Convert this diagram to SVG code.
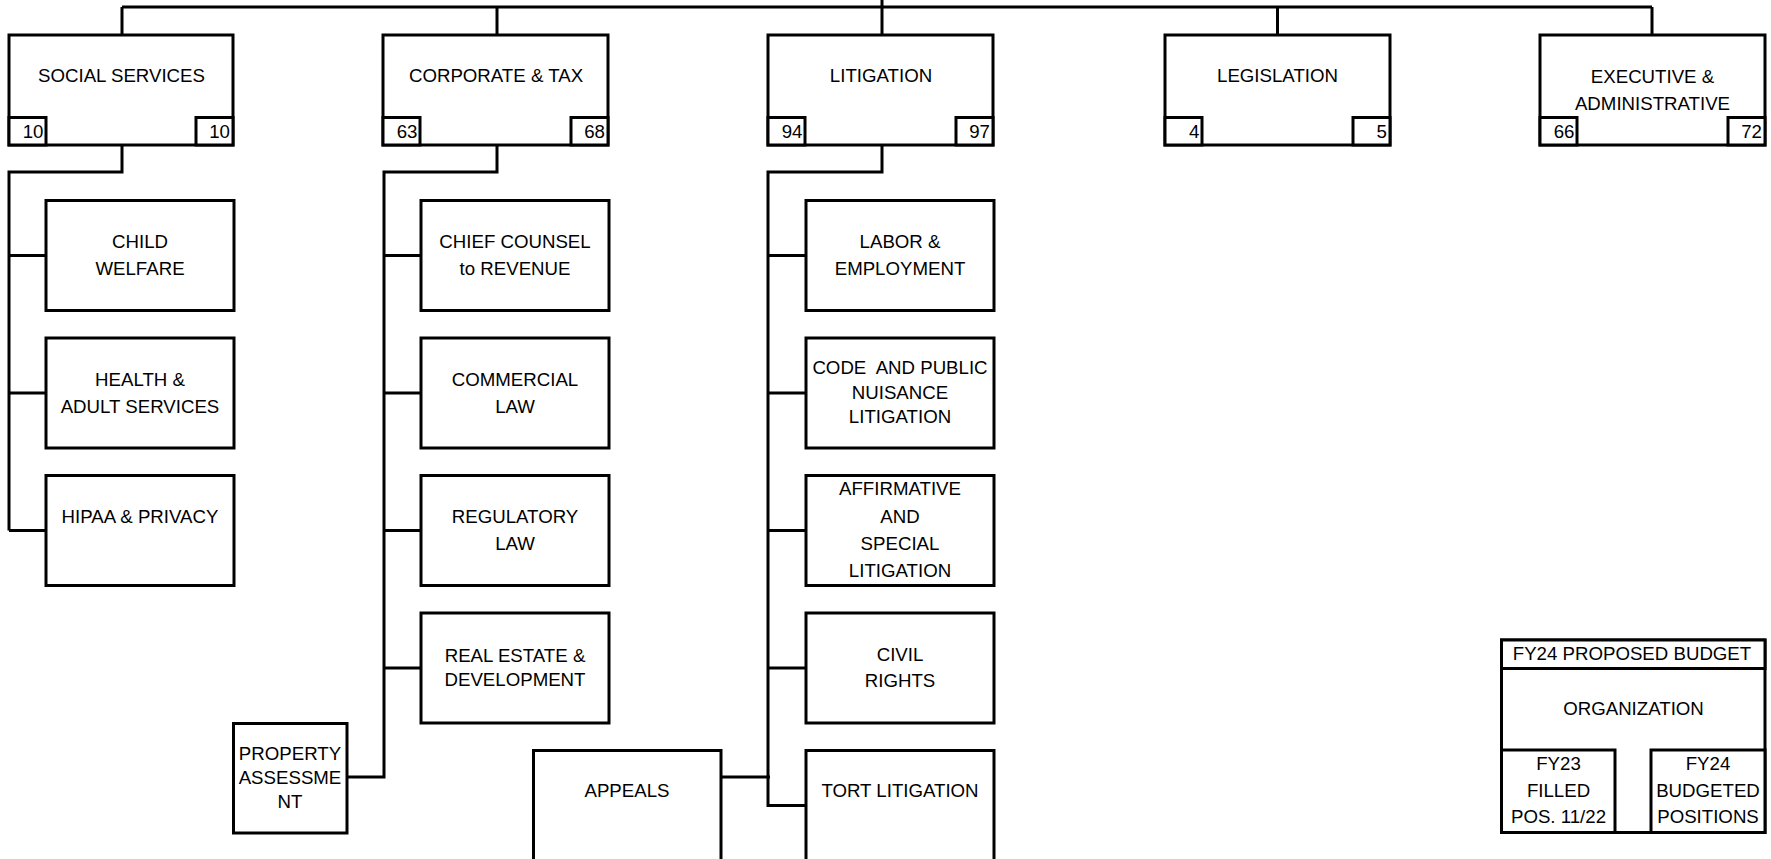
<svg xmlns="http://www.w3.org/2000/svg" width="1771" height="859" viewBox="0 0 1771 859">
  <style>
    .box { fill: #ffffff; stroke: #000000; stroke-width: 3; }
    .cnt { fill: #ffffff; stroke: #000000; stroke-width: 3; }
    .wire { fill: none; stroke: #000000; stroke-width: 3; }
    text { font-family: "Liberation Sans", Arial, sans-serif; font-size: 18.67px; fill: #000000; }
    .c { text-anchor: middle; }
    .r { text-anchor: end; }
  </style>
  <rect width="1771" height="859" fill="#ffffff"/>

  <!-- connectors -->
  <g id="connectors" class="wire">
    <path d="M882 0 V7 M122 7 H1652 M122 7 V35 M497 7 V35 M882 7 V35 M1277.5 7 V35 M1652 7 V35"/>
    <!-- social services branch -->
    <path d="M122 145 V172 H9 V530.5 M9 255.5 H46 M9 393 H46 M9 530.5 H46"/>
    <!-- corporate & tax branch -->
    <path d="M497 145 V172 H384 V777 H347 M384 255.5 H421 M384 393 H421 M384 530.5 H421 M384 668 H421"/>
    <!-- litigation branch -->
    <path d="M882 145 V172 H768 V805.5 H806 M768 255.5 H806 M768 393 H806 M768 530.5 H806 M768 668 H806 M721 777 H770"/>
  </g>

  <!-- top-level divisions -->
  <g id="social-services">
    <rect class="box" x="9" y="35" width="224" height="110"/>
    <rect class="cnt" x="9" y="117.5" width="37" height="27.5"/>
    <rect class="cnt" x="196" y="117.5" width="37" height="27.5"/>
    <text class="c" x="121.5" y="82">SOCIAL SERVICES</text>
    <text class="r" x="43.5" y="137.5">10</text>
    <text class="r" x="230" y="137.5">10</text>
  </g>
  <g id="corporate-tax">
    <rect class="box" x="383" y="35" width="225" height="110"/>
    <rect class="cnt" x="383" y="117.5" width="37" height="27.5"/>
    <rect class="cnt" x="571" y="117.5" width="37" height="27.5"/>
    <text class="c" x="496" y="82">CORPORATE &amp; TAX</text>
    <text class="r" x="417.5" y="137.5">63</text>
    <text class="r" x="605" y="137.5">68</text>
  </g>
  <g id="litigation">
    <rect class="box" x="768" y="35" width="225" height="110"/>
    <rect class="cnt" x="768" y="117.5" width="37" height="27.5"/>
    <rect class="cnt" x="956" y="117.5" width="37" height="27.5"/>
    <text class="c" x="881" y="82">LITIGATION</text>
    <text class="r" x="802.5" y="137.5">94</text>
    <text class="r" x="990" y="137.5">97</text>
  </g>
  <g id="legislation">
    <rect class="box" x="1165" y="35" width="225" height="110"/>
    <rect class="cnt" x="1165" y="117.5" width="37" height="27.5"/>
    <rect class="cnt" x="1353" y="117.5" width="37" height="27.5"/>
    <text class="c" x="1277.5" y="82">LEGISLATION</text>
    <text class="r" x="1199.5" y="137.5">4</text>
    <text class="r" x="1387" y="137.5">5</text>
  </g>
  <g id="executive-administrative">
    <rect class="box" x="1540" y="35" width="225" height="110"/>
    <rect class="cnt" x="1540" y="117.5" width="37" height="27.5"/>
    <rect class="cnt" x="1728" y="117.5" width="37" height="27.5"/>
    <text class="c" x="1652.5" y="82.5">EXECUTIVE &amp;</text>
    <text class="c" x="1652.5" y="109.5">ADMINISTRATIVE</text>
    <text class="r" x="1574.5" y="137.5">66</text>
    <text class="r" x="1762" y="137.5">72</text>
  </g>

  <!-- social services sections -->
  <g id="child-welfare">
    <rect class="box" x="46" y="200.5" width="188" height="110"/>
    <text class="c" x="140" y="248">CHILD</text>
    <text class="c" x="140" y="275">WELFARE</text>
  </g>
  <g id="health-adult-services">
    <rect class="box" x="46" y="338" width="188" height="110"/>
    <text class="c" x="140" y="385.5">HEALTH &amp;</text>
    <text class="c" x="140" y="412.5">ADULT SERVICES</text>
  </g>
  <g id="hipaa-privacy">
    <rect class="box" x="46" y="475.5" width="188" height="110"/>
    <text class="c" x="140" y="523">HIPAA &amp; PRIVACY</text>
  </g>

  <!-- corporate & tax sections -->
  <g id="chief-counsel-revenue">
    <rect class="box" x="421" y="200.5" width="188" height="110"/>
    <text class="c" x="515" y="248">CHIEF COUNSEL</text>
    <text class="c" x="515" y="275">to REVENUE</text>
  </g>
  <g id="commercial-law">
    <rect class="box" x="421" y="338" width="188" height="110"/>
    <text class="c" x="515" y="385.5">COMMERCIAL</text>
    <text class="c" x="515" y="412.5">LAW</text>
  </g>
  <g id="regulatory-law">
    <rect class="box" x="421" y="475.5" width="188" height="110"/>
    <text class="c" x="515" y="523">REGULATORY</text>
    <text class="c" x="515" y="550">LAW</text>
  </g>
  <g id="real-estate-development">
    <rect class="box" x="421" y="613" width="188" height="110"/>
    <text class="c" x="515" y="661.5">REAL ESTATE &amp;</text>
    <text class="c" x="515" y="685.5">DEVELOPMENT</text>
  </g>
  <g id="property-assessment">
    <rect class="box" x="233.5" y="723.5" width="113.5" height="109.5"/>
    <text class="c" x="290" y="760">PROPERTY</text>
    <text class="c" x="290" y="783.5">ASSESSME</text>
    <text class="c" x="290" y="807.5">NT</text>
  </g>

  <!-- litigation sections -->
  <g id="labor-employment">
    <rect class="box" x="806" y="200.5" width="188" height="110"/>
    <text class="c" x="900" y="248">LABOR &amp;</text>
    <text class="c" x="900" y="275">EMPLOYMENT</text>
  </g>
  <g id="code-public-nuisance">
    <rect class="box" x="806" y="338" width="188" height="110"/>
    <text class="c" x="900" y="374.3" xml:space="preserve" style="white-space:pre">CODE  AND PUBLIC</text>
    <text class="c" x="900" y="399">NUISANCE</text>
    <text class="c" x="900" y="423.3">LITIGATION</text>
  </g>
  <g id="affirmative-special">
    <rect class="box" x="806" y="475.5" width="188" height="110"/>
    <text class="c" x="900" y="495">AFFIRMATIVE</text>
    <text class="c" x="900" y="523">AND</text>
    <text class="c" x="900" y="550">SPECIAL</text>
    <text class="c" x="900" y="577.3">LITIGATION</text>
  </g>
  <g id="civil-rights">
    <rect class="box" x="806" y="613" width="188" height="110"/>
    <text class="c" x="900" y="660.7">CIVIL</text>
    <text class="c" x="900" y="687.3">RIGHTS</text>
  </g>
  <g id="tort-litigation">
    <rect class="box" x="806" y="750.5" width="188" height="110"/>
    <text class="c" x="900" y="797.3">TORT LITIGATION</text>
  </g>
  <g id="appeals">
    <rect class="box" x="533.5" y="750.5" width="187.5" height="110"/>
    <text class="c" x="627" y="797.3">APPEALS</text>
  </g>

  <!-- key -->
  <g id="legend">
    <rect class="box" x="1501.5" y="640" width="263.5" height="192.5"/>
    <rect class="box" x="1501.5" y="640" width="263.5" height="28.5"/>
    <rect class="cnt" x="1501.5" y="750" width="113.5" height="82.5"/>
    <rect class="cnt" x="1651" y="750" width="114" height="82.5"/>
    <text class="c" x="1632" y="660">FY24 PROPOSED BUDGET</text>
    <text class="c" x="1633.5" y="715">ORGANIZATION</text>
    <text class="c" x="1558.5" y="770">FY23</text>
    <text class="c" x="1558.5" y="796.7">FILLED</text>
    <text class="c" x="1558.5" y="823.3">POS. 11/22</text>
    <text class="c" x="1708" y="770">FY24</text>
    <text class="c" x="1708" y="796.7">BUDGETED</text>
    <text class="c" x="1708" y="823.3">POSITIONS</text>
  </g>
</svg>
